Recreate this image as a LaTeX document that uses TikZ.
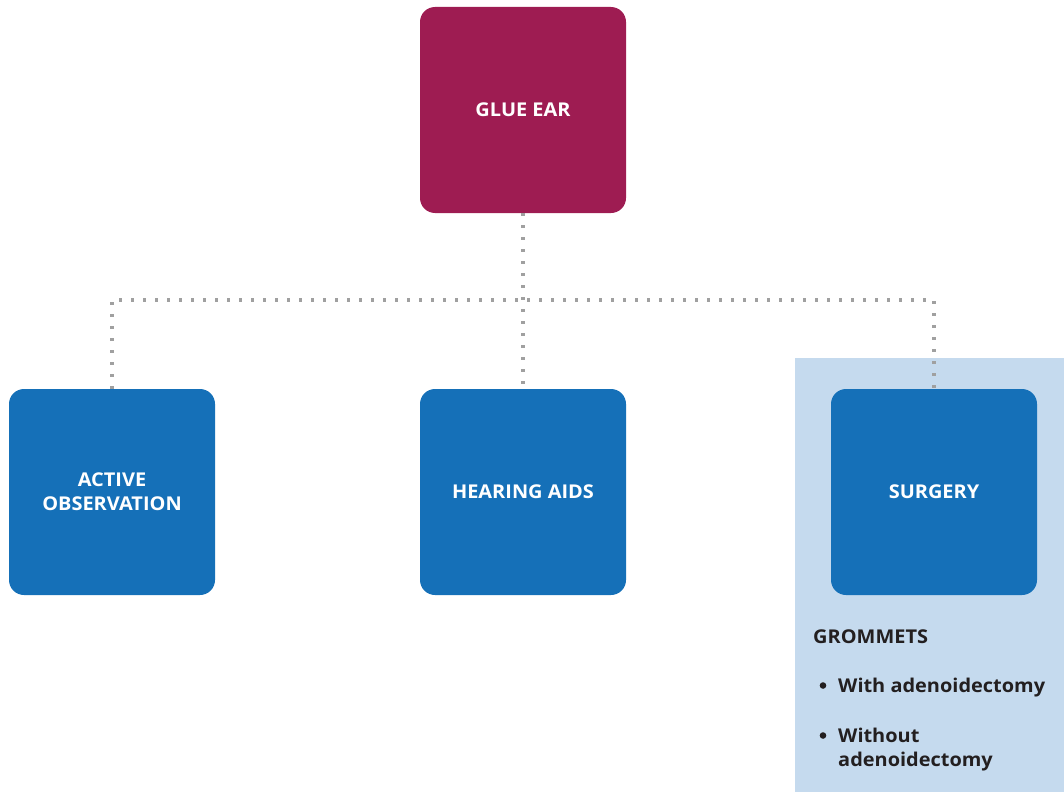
\documentclass[tikz,border=0pt]{standalone}
\usepackage{fontspec}
\setmainfont{Open Sans}[FakeStretch=1.05]
\definecolor{glue}{HTML}{9E1C52}
\definecolor{optblue}{HTML}{1570B8}
\definecolor{panel}{HTML}{C5DAEE}
\definecolor{dotgray}{HTML}{A0A0A0}
\definecolor{ink}{HTML}{231F20}
\begin{document}
\begin{tikzpicture}[x=1pt,y=-1pt,
  card/.style={rounded corners=15pt, minimum width=206pt, minimum height=206pt,
    inner sep=0pt, text=white, align=center, font=\bfseries\fontsize{19}{24}\selectfont},
  link/.style={dotgray, line width=3.2pt, dash pattern=on 3.2pt off 8.8pt},
  listtext/.style={ink, anchor=base west, font=\bfseries\fontsize{19}{24}\selectfont, inner sep=0pt}]
  \useasboundingbox (0,0) rectangle (1064,792);
  % shaded panel behind the surgery option
  \fill[panel] (795,358) rectangle (1064,792);
  % boxes
  \node[card, fill=glue] (glue) at (523,110) {GLUE EAR};
  \node[card, fill=optblue] (obs) at (112,492) {ACTIVE\\OBSERVATION};
  \node[card, fill=optblue] (aids) at (523,492) {HEARING AIDS};
  \node[card, fill=optblue] (surg) at (934,492) {SURGERY};
  % dotted tree connectors
  \coordinate (hub) at (523,300);
  \draw[link] (glue.south) -- (aids.north);
  \draw[link] (obs.north) -- (obs.north |- hub) -- (surg.north |- hub) -- (surg.north);
  % surgery details
  \node[listtext] (grom) at (813,643) {GROMMETS};
  \node[listtext] (b1) at (838,692) {With adenoidectomy};
  \node[listtext] (b2) at (838,742) {Without};
  \node[listtext] (b3) at (838,766) {adenoidectomy};
  \fill[ink] (b1.base west) ++(-15,-6.5) circle (3.3pt);
  \fill[ink] (b2.base west) ++(-15,-6.5) circle (3.3pt);
\end{tikzpicture}
\end{document}
